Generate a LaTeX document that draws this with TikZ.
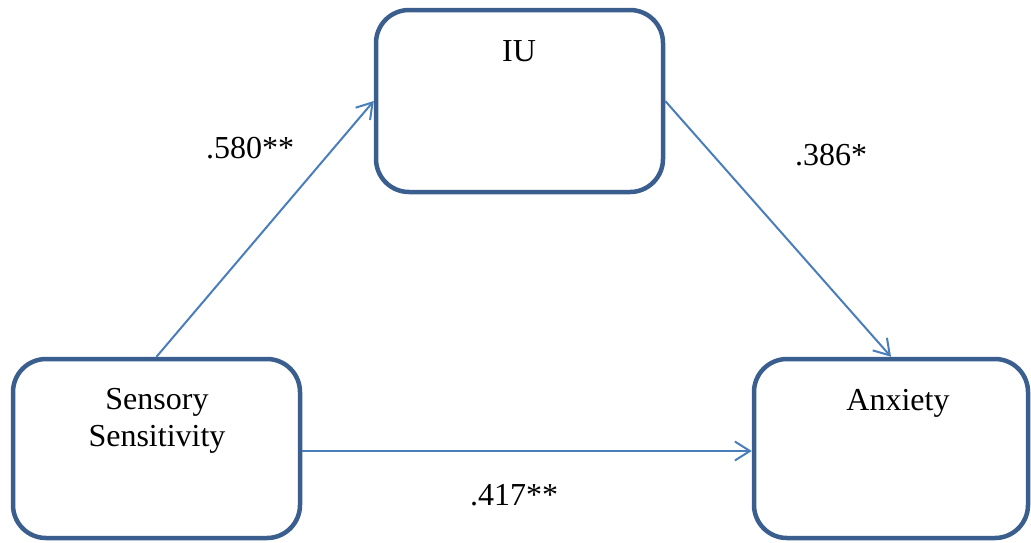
\documentclass[tikz,border=0pt]{standalone}
\usepackage{fontspec}
\setmainfont{Liberation Serif}
\usetikzlibrary{arrows.meta}
\definecolor{boxblue}{HTML}{3A5F8E}
\definecolor{arrowblue}{HTML}{4A7EBB}
\tikzset{
  box/.style={draw=boxblue, line width=4.5pt, rounded corners=33pt, fill=white, rectangle, inner sep=0pt},
  txt/.style={font=\fontsize{32}{37}\selectfont, text=black, inner sep=0pt, align=center},
  conn/.style={draw=arrowblue, line width=2pt, -{Straight Barb[length=15pt,width=19pt,line width=2pt]}}
}
\begin{document}
\begin{tikzpicture}[x=1pt,y=-1pt]
\useasboundingbox (0,0) rectangle (1031,542);
\node[box, minimum width=287pt, minimum height=182pt] (iu) at (519.5,101) {};
\node[box, minimum width=287pt, minimum height=179pt] (ss) at (156.5,448.5) {};
\node[box, minimum width=274pt, minimum height=179pt] (ax) at (891,448.5) {};
\node[txt, anchor=base] (iut) at (519,61) {IU};
\node[txt, anchor=base] (sst) at (157,446) {Sensory\\Sensitivity};
\node[txt, anchor=base] (axt) at (898,410) {Anxiety};
\draw[conn] (ss.north) -- (iu.west);
\draw[conn] (iu.east) -- (ax.north);
\draw[conn] ([yshift=-2.5pt]ss.east) -- ([yshift=-2.5pt]ax.west);
\node[txt, anchor=base] (l1) at (250,158) {.580**};
\node[txt, anchor=base] (l2) at (831,165) {.386*};
\node[txt, anchor=base] (l3) at (514,505) {.417**};
\end{tikzpicture}
\end{document}
